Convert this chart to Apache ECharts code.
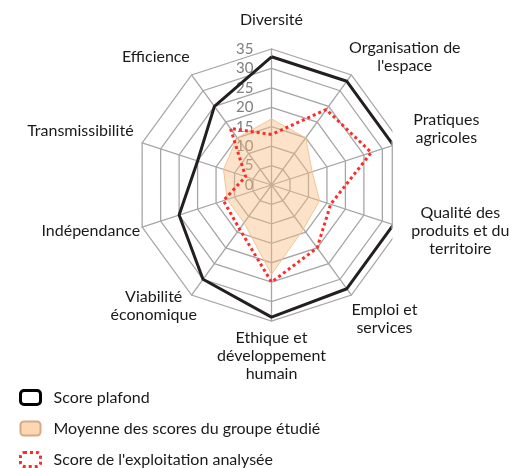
<!DOCTYPE html>
<html><head><meta charset="utf-8">
<script src="https://cdn.jsdelivr.net/npm/echarts@6/dist/echarts.min.js"></script>
<style>html,body{margin:0;padding:0;background:#fff}#c{width:513px;height:468px}</style>
</head><body><div id="c"></div>
<script>
// ---- data (clockwise from top) ----
const categories = ["Diversité", "Organisation de\nl'espace", "Pratiques\nagricoles", "Qualité des\nproduits et du\nterritoire", "Emploi et\nservices", "Ethique et\ndéveloppement\nhumain", "Viabilité\néconomique", "Indépendance", "Transmissibilité", "Efficience"];
const scorePlafond      = [33, 33, 33, 33, 33, 34, 30, 25, 20, 25];
const moyenneGroupe     = [17, 15, 11, 13, 14, 23, 12, 12, 13, 15];
const scoreExploitation = [13, 24, 27, 16, 20, 25, 14, 13, 7, 18];
const axisTicks = [0, 5, 10, 15, 20, 25, 30, 35];
const seriesNames = ["Score plafond", "Moyenne des scores du groupe étudié", "Score de l'exploitation analysée"];

// ---- label layout (style only) ----
const FONT = 'Lato';
const nameLayout = [
  {gap: 20,  align: 'center', v: 'bottom', pad: [0,0,0,0]},
  {gap: -4,  align: 'left',   v: 'middle', pad: [0,0,43,0]},
  {gap: 13,  align: 'left',   v: 'middle', pad: [0,0,21,0]},
  {gap: 11,  align: 'left',   v: 'middle', pad: [0,0,0,0]},
  {gap: 0,   align: 'left',   v: 'middle', pad: [47,0,0,0]},
  {gap: 8,   align: 'center', v: 'top',    pad: [0,0,0,0]},
  {gap: -9,  align: 'right',  v: 'middle', pad: [36,0,0,0]},
  {gap: 2,   align: 'right',  v: 'middle', pad: [6,0,0,0]},
  {gap: 9,   align: 'right',  v: 'middle', pad: [0,0,19,0]},
  {gap: 3,   align: 'right',  v: 'middle', pad: [0,0,32,0]}
];

// ECharts places indicators counter-clockwise; reorder to get clockwise layout
const n = categories.length;
const order = [0];
for (let i = n - 1; i >= 1; i--) order.push(i);
const pick = arr => order.map(i => arr[i]);

const maxVal = axisTicks[axisTicks.length - 1];
const indicator = order.map((i, k) => {
  const L = nameLayout[i];
  const ind = {
    name: categories[i].split('\n').map(s => '{c|' + s + '}').join('\n'),
    min: axisTicks[0], max: maxVal,
    nameGap: L.gap,
    nameTextStyle: {align: L.align, verticalAlign: L.v, padding: L.pad}
  };
  if (i === 0) {
    ind.axisLabel = {show: true, color: '#7f7f7f', fontFamily: FONT, fontSize: 15, margin: 18};
  }
  return ind;
});

const chart = echarts.init(document.getElementById('c'), null, {renderer: 'canvas'});
chart.setOption({
  animation: false,
  backgroundColor: '#fff',
  legend: {
    orient: 'vertical', left: 19, top: 389, padding: 0, itemGap: 14.5,
    height: 200, width: 400,
    itemWidth: 20, itemHeight: 14, icon: 'roundRect',
    textStyle: {fontFamily: FONT, fontSize: 16, color: '#1a1a1a', padding: [0,0,0,8], lineHeight: 14},
    data: [
      {name: seriesNames[0], itemStyle: {color: '#fff', borderColor: '#000', borderWidth: 3}},
      {name: seriesNames[1], itemStyle: {color: '#fdd6b2', borderColor: '#d5aa84', borderWidth: 2}},
      {name: seriesNames[2], itemStyle: {color: '#fff', borderColor: '#ff2a2a', borderWidth: 3, borderType: 'dotted'}}
    ]
  },
  radar: {
    center: [271.5, 185], radius: 136, startAngle: 90,
    shape: 'polygon', splitNumber: axisTicks.length - 1,
    indicator: indicator,
    axisName: {
      color: '#1a1a1a', fontFamily: FONT, fontSize: 16, lineHeight: 18,
      rich: {c: {align: 'center', fontFamily: FONT, fontSize: 16, lineHeight: 18, color: '#1a1a1a'}}
    },
    axisLabel: {show: false},
    axisTick: {show: false},
    axisLine: {lineStyle: {color: '#a6a6a6', width: 1.3}},
    splitLine: {lineStyle: {color: '#a6a6a6', width: 1.3}},
    splitArea: {show: false}
  },
  series: [{
    type: 'radar', symbol: 'none',
    data: [
      {name: seriesNames[1], value: pick(moyenneGroupe),
       lineStyle: {color: '#f6c89a', width: 1},
       itemStyle: {color: '#f6c89a'},
       areaStyle: {color: 'rgba(247,186,124,0.6)'}},
      {name: seriesNames[0], value: pick(scorePlafond),
       lineStyle: {color: '#231f20', width: 3},
       itemStyle: {color: '#231f20'}},
      {name: seriesNames[2], value: pick(scoreExploitation),
       lineStyle: {color: '#ff2a2a', width: 3, type: 'dotted'},
       itemStyle: {color: '#ff2a2a'}}
    ]
  }],
  graphic: [
    {type: 'rect', shape: {x: 392.5, y: 124, width: 14, height: 122}, style: {fill: '#fff'}, z: 100},
    {type: 'line', shape: {x1: 392, y1: 141, x2: 392, y2: 229}, style: {stroke: '#c9c9c9', lineWidth: 1}, z: 101}
  ]
});
</script></body></html>
